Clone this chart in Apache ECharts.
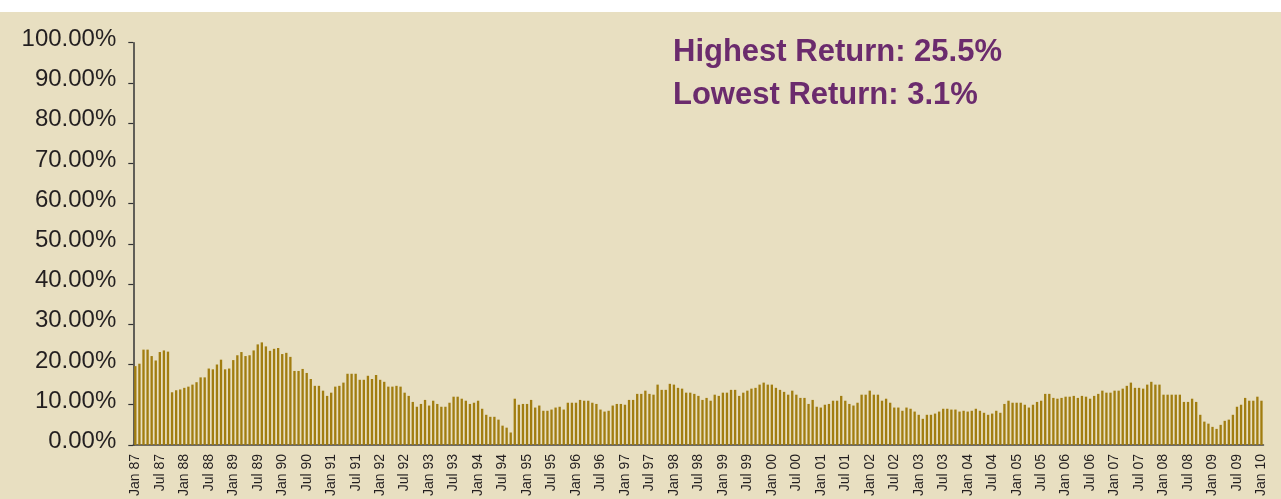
<!DOCTYPE html>
<html>
<head>
<meta charset="utf-8">
<title>Rolling returns</title>
<script src="https://cdn.jsdelivr.net/npm/echarts@6/dist/echarts.min.js"></script>
<style>
  html, body { margin: 0; padding: 0; background: #ffffff; }
  #chart { width: 1281px; height: 499px; }
</style>
</head>
<body>
<div id="chart"></div>
<script>
// month names and years for the category axis (Jan 87 .. Jan 10)
const monthNames = ['Jan', 'Feb', 'Mar', 'Apr', 'May', 'Jun', 'Jul', 'Aug', 'Sep', 'Oct', 'Nov', 'Dec'];
const firstYear = 1987;
const monthCount = 277;

// monthly return, %
const returns = [
    19.6, 20.2, 23.7, 23.7, 22.1, 21.0, 23.1, 23.5, 23.2, 13.1, 13.6, 13.8,
    14.2, 14.5, 15.0, 15.6, 16.8, 16.8, 19.0, 18.8, 20.0, 21.2, 18.8, 19.0,
    21.1, 22.3, 23.1, 22.1, 22.3, 23.5, 25.0, 25.5, 24.5, 23.4, 23.9, 24.1,
    22.6, 22.9, 21.9, 18.4, 18.4, 18.9, 17.9, 16.4, 14.7, 14.7, 13.5, 12.2,
    13.0, 14.5, 14.7, 15.5, 17.7, 17.7, 17.7, 16.2, 16.2, 17.2, 16.4, 17.4,
    16.2, 15.7, 14.5, 14.5, 14.7, 14.5, 13.0, 12.2, 10.7, 9.5, 10.2, 11.2,
    9.8, 11.0, 10.2, 9.5, 9.5, 10.5, 12.0, 12.0, 11.5, 11.0, 10.2, 10.5,
    11.0, 9.0, 7.5, 7.0, 7.0, 6.3, 4.8, 4.3, 3.1, 11.5, 10.0, 10.2,
    10.2, 11.2, 9.3, 9.8, 8.5, 8.5, 8.8, 9.3, 9.5, 8.8, 10.5, 10.5,
    10.5, 11.2, 11.0, 11.0, 10.5, 10.2, 8.8, 8.3, 8.5, 9.8, 10.2, 10.2,
    10.0, 11.2, 11.2, 12.7, 12.7, 13.5, 12.7, 12.5, 15.0, 13.7, 13.7, 15.2,
    15.0, 14.2, 14.0, 13.0, 13.0, 12.7, 12.2, 11.2, 11.7, 11.0, 12.5, 12.2,
    13.0, 13.0, 13.7, 13.7, 12.2, 13.0, 13.5, 14.0, 14.2, 15.0, 15.5, 15.0,
    15.0, 14.2, 13.7, 13.2, 12.5, 13.5, 12.5, 11.7, 11.7, 10.2, 11.2, 9.5,
    9.3, 10.0, 10.2, 11.0, 11.0, 12.2, 11.0, 10.2, 9.8, 10.5, 12.5, 12.5,
    13.5, 12.5, 12.5, 11.0, 11.5, 10.5, 9.3, 9.3, 8.5, 9.3, 9.0, 8.3,
    7.5, 6.5, 7.5, 7.5, 7.8, 8.3, 9.0, 9.0, 8.8, 8.8, 8.3, 8.5,
    8.3, 8.5, 9.0, 8.5, 8.0, 7.5, 7.8, 8.5, 8.0, 10.2, 11.0, 10.5,
    10.5, 10.5, 10.0, 9.3, 10.0, 10.7, 11.0, 12.7, 12.7, 11.7, 11.5, 11.7,
    12.0, 12.0, 12.2, 11.7, 12.2, 12.0, 11.5, 12.2, 12.7, 13.5, 13.0, 13.0,
    13.5, 13.5, 14.0, 14.7, 15.5, 14.2, 14.2, 14.0, 15.0, 15.7, 15.0, 15.0,
    12.5, 12.5, 12.5, 12.5, 12.5, 10.7, 10.7, 11.5, 10.7, 7.5, 5.8, 5.3,
    4.5, 4.0, 5.0, 6.0, 6.3, 7.5, 9.5, 10.0, 11.7, 11.0, 11.0, 12.0,
    11.0
];

const highestText = 'Highest Return: 25.5%';
const lowestText = 'Lowest Return: 3.1%';

const categories = [];
for (let i = 0; i < monthCount; i++) {
    const yr = (firstYear + Math.floor(i / 12)) % 100;
    categories.push(monthNames[i % 12] + ' ' + String(yr).padStart(2, '0'));
}

(function () {
    const myChart = echarts.init(document.getElementById('chart'));
    const fontFamily = '"Liberation Sans", Arial, Helvetica, sans-serif';

    const option = {
        backgroundColor: '#e8dfc1',
        animation: false,
        grid: {
            left: 133.3,
            right: 17.5,
            top: 42.7,
            bottom: 53.5
        },
        xAxis: {
            type: 'category',
            data: categories,
            boundaryGap: true,
            axisLine: {
                lineStyle: { color: '#444', width: 1.5 }
            },
            axisTick: {
                interval: function (i) { return i % 6 === 0; },
                length: 6,
                lineStyle: { color: '#333', width: 1.2 }
            },
            axisLabel: {
                interval: function (i) { return i % 6 === 0; },
                rotate: 90,
                margin: 9,
                fontSize: 14,
                color: '#231f20',
                fontFamily: fontFamily
            },
            splitLine: { show: false }
        },
        yAxis: {
            type: 'value',
            min: 0,
            max: 100,
            interval: 10,
            axisLine: {
                show: true,
                lineStyle: { color: '#333', width: 1.5 }
            },
            axisTick: {
                show: true,
                length: 5,
                lineStyle: { color: '#333', width: 1.2 }
            },
            axisLabel: {
                margin: 17,
                fontSize: 24,
                color: '#231f20',
                fontFamily: fontFamily,
                verticalAlign: 'bottom',
                lineHeight: 7,
                formatter: function (v) { return v.toFixed(2) + '%'; }
            },
            splitLine: { show: false }
        },
        series: [
            {
                type: 'bar',
                data: returns,
                barWidth: '57%',
                itemStyle: { color: '#a17d10' }
            }
        ],
        graphic: [
            {
                type: 'rect',
                left: 0,
                top: 0,
                shape: { width: 1281, height: 12 },
                style: { fill: '#ffffff' }
            },
            {
                type: 'text',
                x: 673,
                y: 52.8,
                style: {
                    text: highestText,
                    fill: '#6b2b6d',
                    font: 'bold 31px ' + fontFamily,
                    verticalAlign: 'middle'
                }
            },
            {
                type: 'text',
                x: 673,
                y: 95,
                style: {
                    text: lowestText,
                    fill: '#6b2b6d',
                    font: 'bold 31px ' + fontFamily,
                    verticalAlign: 'middle'
                }
            }
        ]
    };

    myChart.setOption(option);
    window.addEventListener('resize', function () {
        myChart.resize();
    });
})();
</script>
</body>
</html>
